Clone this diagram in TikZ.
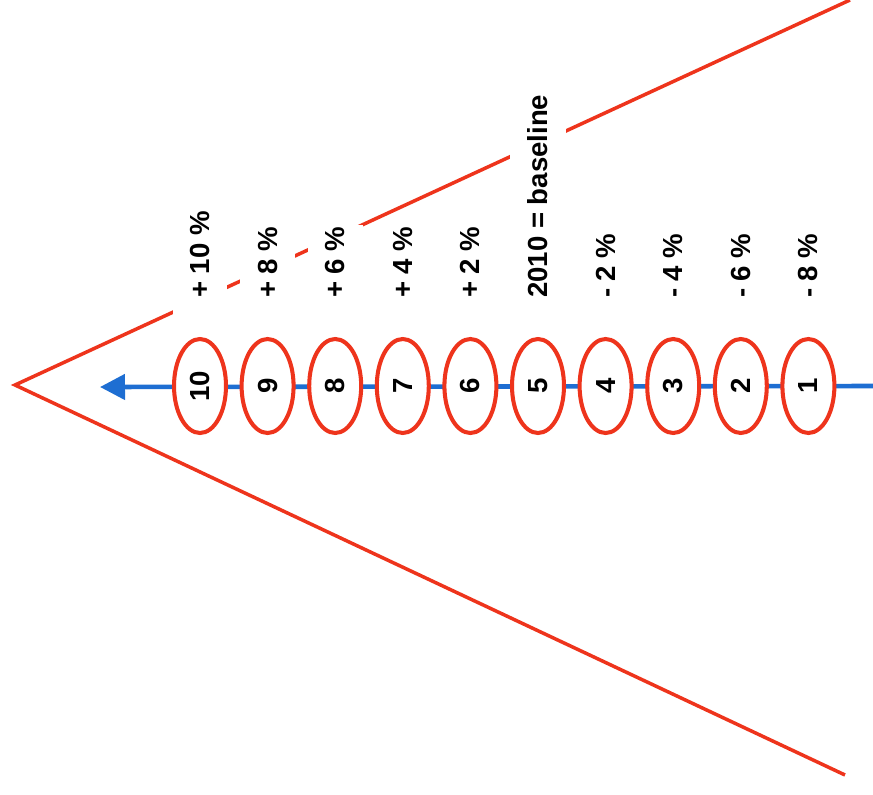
\documentclass[tikz,border=0pt]{standalone}
\usepackage{fontspec}
\setmainfont{Liberation Sans}
\usetikzlibrary{shapes.geometric,arrows.meta}
\definecolor{trichter}{RGB}{238,52,28}
\definecolor{pfeil}{RGB}{30,110,210}
\begin{document}
\begin{tikzpicture}
		[x=0.02cm, y=-0.02cm,
		every node/.style={font=\fontsize{15.7}{18}\selectfont\bfseries},
		stufe/.style={ellipse,draw=trichter,line width=2.3pt,fill=white,rotate=90,
			minimum width=1.88cm,minimum height=1.04cm,inner sep=0pt},
		wert/.style={rotate=90,anchor=west,fill=white,inner xsep=1pt,inner ysep=10pt,
			execute at begin node=\hspace*{0.34cm}},
		]
		\useasboundingbox (0,0) rectangle (873,795);

		% Trichter
		\coordinate (spitze) at (15,385);
		\coordinate (oben) at (850,0);
		\coordinate (unten) at (845,775);
		\draw[trichter,line width=2pt] (oben) -- (spitze) -- (unten);

		% Zeitachse
		\coordinate (start) at (873,386);
		\coordinate (ziel) at (100,387);
		\draw[pfeil,line width=2.6pt,-{Triangle[length=0.5cm,width=0.5cm]}] (start) -- (ziel);

		% Stufen und Werte
		\foreach \n/\t in {10/+ 10 \%, 9/+ 8 \%, 8/+ 6 \%, 7/+ 4 \%, 6/+ 2 \%,
			5/2010 = baseline, 4/- 2 \%, 3/- 4 \%, 2/- 6 \%, 1/- 8 \%}{
			\node[stufe] (e\n) at ({200+(10-\n)*67.6},386) {\n};
			\node[wert] (w\n) at ({200+(10-\n)*67.6},317) {\t};
		}
	\end{tikzpicture}
\end{document}
